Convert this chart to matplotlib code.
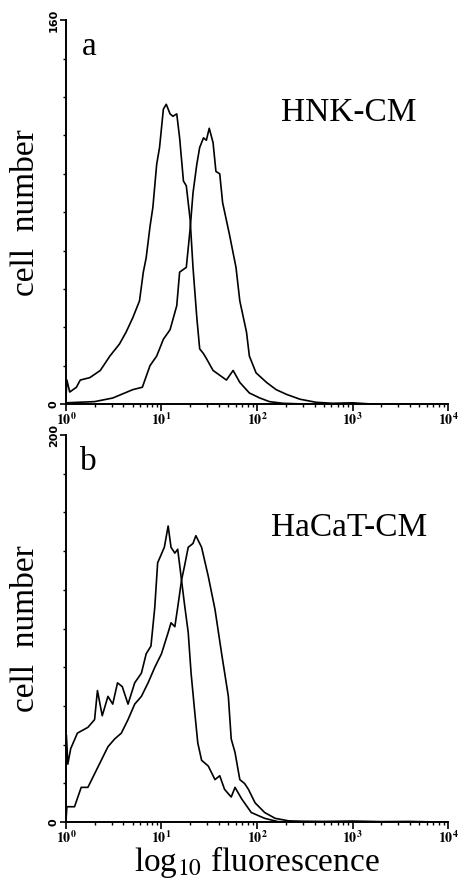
import matplotlib
matplotlib.use("Agg")
import matplotlib.pyplot as plt
from matplotlib.ticker import FixedLocator, NullFormatter
import numpy as np

plt.rcParams['font.family'] = ['Liberation Serif', 'DejaVu Serif']
plt.rcParams['mathtext.fontset'] = 'stix'

# Panel a (HNK-CM): log10 fluorescence positions and cell counts
a_ctrl_log = [0.0, 0.01, 0.04, 0.11, 0.15, 0.25, 0.36, 0.46, 0.56, 0.63, 0.70, 0.77, 0.81, 0.84,
              0.88, 0.91, 0.95, 0.98, 1.02, 1.05, 1.09, 1.12, 1.16, 1.19, 1.23, 1.26, 1.30, 1.33,
              1.37, 1.40, 1.44, 1.47, 1.54, 1.61, 1.68, 1.75, 1.82, 1.92, 2.03, 2.13, 2.27, 2.5, 4.0]
a_ctrl_val = [2, 10, 5, 7, 10, 11, 14, 20, 25, 30, 36, 43, 55, 61,
              74, 82, 100, 107, 123, 125, 121, 120, 121, 111, 93, 91, 77, 57,
              36, 23, 21, 19, 14, 12, 10, 14, 9, 4.6, 2.5, 1, 0.3, 0, 0]

a_trt_log = [0.0, 0.3, 0.49, 0.7, 0.8, 0.88, 0.95, 1.02, 1.09, 1.16, 1.19, 1.26, 1.30, 1.33,
             1.37, 1.40, 1.44, 1.47, 1.50, 1.54, 1.57, 1.61, 1.64, 1.71, 1.78, 1.82, 1.89, 1.92,
             1.99, 2.10, 2.20, 2.31, 2.45, 2.62, 2.79, 3.0, 3.2, 4.0]
a_trt_val = [0.5, 1, 2.5, 6, 7, 16, 20, 27, 31, 41, 55, 57, 73, 88,
             100, 107, 111, 110, 115, 109, 97, 96, 84, 71, 57, 43, 30, 20,
             13, 9, 6, 4, 2, 0.7, 0.3, 0.5, 0, 0]

# Panel b (HaCaT-CM)
b_ctrl_log = [0.0, 0.005, 0.02, 0.05, 0.12, 0.23, 0.30, 0.33, 0.38, 0.44, 0.49, 0.54, 0.59, 0.65,
              0.72, 0.79, 0.84, 0.89, 0.93, 0.96, 1.03, 1.07, 1.10, 1.14, 1.17, 1.21, 1.24, 1.28,
              1.31, 1.35, 1.38, 1.42, 1.49, 1.56, 1.61, 1.66, 1.73, 1.77, 1.84, 1.94, 2.08, 2.22,
              2.4, 4.0]
b_ctrl_val = [20, 45, 30, 38, 46, 49, 53, 68, 55, 65, 61, 72, 70, 61,
              72, 77, 87, 91, 111, 134, 142, 153, 142, 139, 141, 125, 113, 98,
              77, 56, 41, 32, 29, 22, 24, 17, 13, 18, 12, 5, 2, 0.3,
              0, 0]

b_trt_log = [0.0, 0.01, 0.09, 0.16, 0.23, 0.30, 0.37, 0.44, 0.51, 0.58, 0.65, 0.72, 0.79, 0.86,
             0.93, 1.0, 1.07, 1.10, 1.14, 1.17, 1.21, 1.24, 1.28, 1.33, 1.36, 1.42, 1.49, 1.56,
             1.63, 1.70, 1.73, 1.77, 1.82, 1.87, 1.91, 1.98, 2.08, 2.19, 2.33, 2.47, 2.7, 3.0,
             3.3, 3.6, 4.0]
b_trt_val = [0, 8, 8, 18, 18, 25, 32, 39, 43, 46, 53, 61, 65, 72,
             80, 87, 98, 103, 101, 111, 125, 132, 142, 144, 148, 142, 127, 110,
             87, 65, 43, 36, 22, 20, 17, 10, 5, 2, 0.7, 0.5, 0.4, 0.6,
             0.3, 0.4, 0]

panels = [
    ("a", "HNK-CM", 160, a_ctrl_log, a_ctrl_val, a_trt_log, a_trt_val, [0.143, 0.544, 0.829, 0.433]),
    ("b", "HaCaT-CM", 200, b_ctrl_log, b_ctrl_val, b_trt_log, b_trt_val, [0.143, 0.072, 0.829, 0.437]),
]

fig = plt.figure(figsize=(4.61, 8.86), dpi=100)

for letra, nombre, ymax, c_log, c_val, t_log, t_val, pos in panels:
    ax = fig.add_axes(pos)
    ax.plot(10 ** np.array(c_log), c_val, color='black', lw=1.2)
    ax.plot(10 ** np.array(t_log), t_val, color='black', lw=1.2)
    ax.set_xscale('log')
    ax.set_xlim(1, 1e4)
    ax.set_ylim(0, ymax)

    for s in ['top', 'right']:
        ax.spines[s].set_visible(False)
    for s in ['left', 'bottom']:
        ax.spines[s].set_linewidth(1.4)

    # ejes x
    ax.xaxis.set_major_locator(FixedLocator([1, 10, 100, 1000, 10000]))
    ax.set_xticklabels([r'$\mathbf{10^{%d}}$' % i for i in range(5)], fontsize=10)
    ax.xaxis.set_minor_locator(FixedLocator([m * 10 ** d for d in range(4) for m in range(2, 10)]))
    ax.xaxis.set_minor_formatter(NullFormatter())
    ax.tick_params(axis='x', which='major', direction='out', length=5, width=1.2, pad=0)
    ax.tick_params(axis='x', which='minor', direction='out', length=2.5, width=1)

    # ejes y
    ax.set_yticks([0, ymax])
    ax.set_yticklabels(['0', str(ymax)], rotation=90, va='center', fontsize=8, fontweight='bold',
                       family='DejaVu Sans')
    ax.set_yticks(np.linspace(0, ymax, 11), minor=True)
    ax.tick_params(axis='y', which='major', direction='out', length=4, width=1.2, pad=1)
    ax.tick_params(axis='y', which='minor', direction='out', length=2, width=1)

    ax.text(0.06, 0.93, letra, transform=ax.transAxes, fontsize=24, ha='center', va='center')
    ax.text(0.74, 0.76, nombre, transform=ax.transAxes, fontsize=24, ha='center', va='center')
    ax.set_ylabel("cell  number", fontsize=24, labelpad=6)

fig.text(0.557, 0.027, r'log$_{10}$ fluorescence', fontsize=24, ha='center', va='center')

plt.savefig("out.png", dpi=100)
